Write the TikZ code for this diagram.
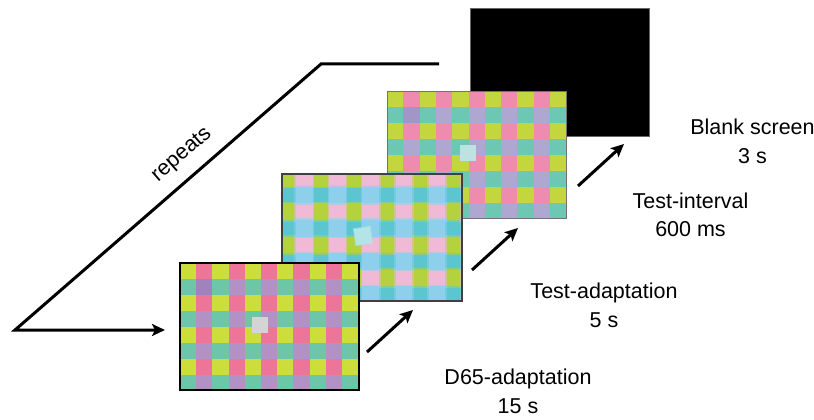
\documentclass[tikz,border=0pt]{standalone}
\usepackage{fontspec}
\setmainfont{Liberation Sans}
\usepackage{tikz}
\usetikzlibrary{arrows.meta}
\usetikzlibrary{calc}

\definecolor{yelA}{RGB}{205,222,60}
\definecolor{pnkA}{RGB}{238,116,152}
\definecolor{grnA}{RGB}{108,198,168}
\definecolor{vioA}{RGB}{178,146,196}
\definecolor{vioAd}{RGB}{160,130,190}
\definecolor{sqA}{RGB}{212,212,212}
\definecolor{yelB}{RGB}{180,210,62}
\definecolor{pnkB}{RGB}{240,186,214}
\definecolor{grnB}{RGB}{92,198,208}
\definecolor{vioB}{RGB}{142,208,236}
\definecolor{sqB}{RGB}{178,228,232}
\definecolor{yelC}{RGB}{196,214,62}
\definecolor{pnkC}{RGB}{238,140,176}
\definecolor{grnC}{RGB}{108,200,178}
\definecolor{vioC}{RGB}{176,166,210}
\definecolor{vioCd}{RGB}{162,150,200}
\definecolor{sqC}{RGB}{190,225,225}

% #1 panel, #2 offset, #3/#4 cell size, #5 even rows, #6 odd rows,
% #7/#8 odd columns, #9 soft edge
\newcommand{\checkers}[9]{%
  \begin{scope}
    \clip (#1.north west) rectangle (#1.south east);
    \begin{scope}[shift={(#1.north west)},shift={#2}]
      \fill[#6] (0,0) rectangle (12*#3,9*#4);
      \foreach \row in {0,2,...,8} {
        \fill[#5, opacity=.5] (0,\row*#4-#9) rectangle ++(12*#3,#4+2*#9);
        \fill[#5] (0,\row*#4) rectangle ++(12*#3,#4);
      }
      \foreach \col in {1,3,...,11} {
        \foreach \row in {0,2,...,8} {
          \fill[#7, opacity=.5] (\col*#3-#9,\row*#4-#9) rectangle ++(#3+2*#9,#4+2*#9);
          \fill[#7] (\col*#3,\row*#4) rectangle ++(#3,#4);
        }
        \foreach \row in {1,3,5,7} {
          \fill[#8, opacity=.5] (\col*#3-#9,\row*#4-#9) rectangle ++(#3+2*#9,#4+2*#9);
          \fill[#8] (\col*#3,\row*#4) rectangle ++(#3,#4);
        }
      }
    \end{scope}
  \end{scope}}

\tikzset{
  panel/.style={rectangle, inner sep=0pt, outer sep=0pt, minimum width=179pt, minimum height=127pt},
  flow/.style={line width=3pt, -{Stealth[length=13pt,width=12pt,inset=3pt]}},
  lbl/.style={font=\fontsize{21.5}{28.5}\selectfont, align=center, anchor=base},
}

\begin{document}
\begin{tikzpicture}[x={(1pt,0)},y={(0,-1pt)}]
        \useasboundingbox (0,0) rectangle (814,420);

        \node [panel, fill=black, draw=black!60, minimum height=128pt](p4) at (559.5,72){};

        \node [panel](p3) at (476.5,154.5){};
        \checkers{p3}{(0,0)}{16.3}{16}{yelC}{grnC}{pnkC}{vioC}{0}
        \fill [vioCd] ($(p3.north west)+(16.3,16)$) rectangle ++(16.3,16);
        \fill [sqC] ($(p3.north west)+(73,54)$) rectangle ++(16,16);
        \draw [black!55, line width=1pt] (p3.north west) rectangle (p3.south east);

        \node [panel, minimum width=180pt](p2) at (372,237.5){};
        \checkers{p2}{(-2.6,-3.9)}{16.6}{16.6}{yelB}{grnB}{pnkB}{vioB}{1.6}
        \fill [sqB, opacity=.6, rotate around={8:(363,236)}] (354,227) rectangle ++(18,18);
        \fill [sqB, rotate around={8:(363,236)}] (355,228) rectangle ++(16,16);
        \draw [black!75, line width=1.2pt] (p2.north west) rectangle (p2.south east);

        \node [panel](p1) at (269.5,326.5){};
        \checkers{p1}{(0,0)}{16.2}{16}{yelA}{grnA}{pnkA}{vioA}{0}
        \fill [vioAd] ($(p1.north west)+(16.2,16)$) rectangle ++(16.2,16);
        \fill [sqA] ($(p1.north west)+(72,54)$) rectangle ++(16,16);
        \draw [black, line width=1.3pt] (p1.north west) rectangle (p1.south east);

        \coordinate (r0) at (15,330);
        \coordinate (r1) at (321,64);
        \coordinate (r2) at (439,64);
        \coordinate (r3) at (165,330);
        \draw [flow] (r2) -- (r1) -- (r0) -- (r3);
        \node [lbl, anchor=center, rotate=41](rep) at (182,155){repeats};

        \coordinate (a1) at (367,352);
        \coordinate (b1) at (413,310);
        \coordinate (a2) at (472,270);
        \coordinate (b2) at (518,228);
        \coordinate (a3) at (578,186);
        \coordinate (b3) at (624,144);
        \draw [flow] (a1) -- (b1);
        \draw [flow] (a2) -- (b2);
        \draw [flow] (a3) -- (b3);

        \node [lbl](l1) at (518,413){D65-adaptation\\15 s};
        \node [lbl](l2) at (604,327){Test-adaptation\\5 s};
        \node [lbl](l3) at (690.5,236.5){Test-interval\\600 ms};
        \node [lbl](l4) at (752.5,163){Blank screen\\3 s};
      \end{tikzpicture}
\end{document}
